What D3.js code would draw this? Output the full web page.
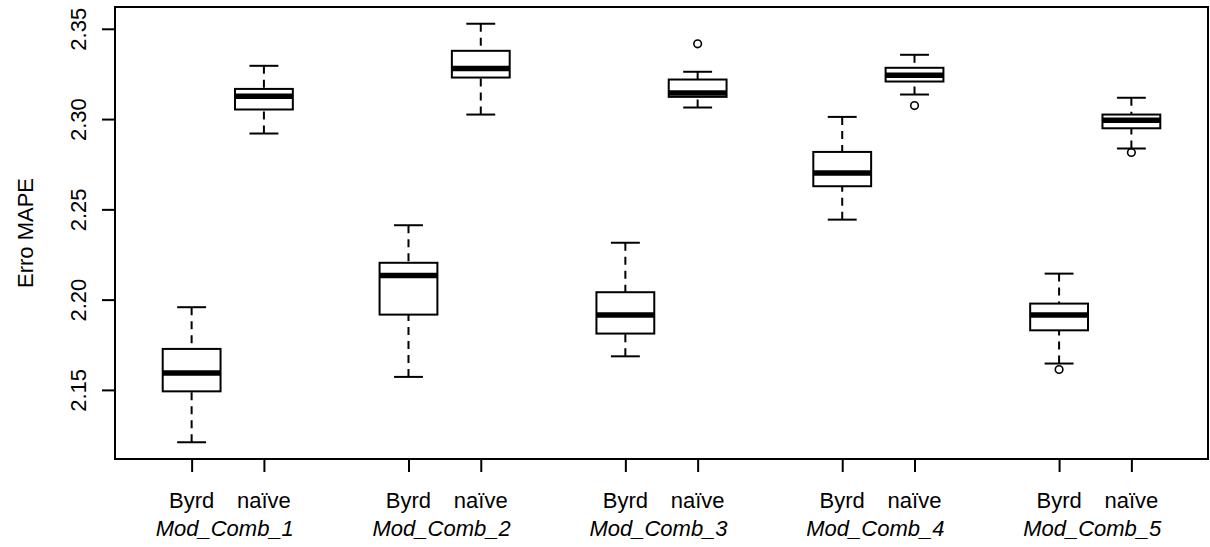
<!DOCTYPE html>
<html>
<head>
<meta charset="utf-8">
<script src="https://cdn.jsdelivr.net/npm/d3@7"></script>
<style>
  html, body { margin: 0; padding: 0; background: #fff; }
  svg { display: block; }
  text { font-family: "Liberation Sans", Arial, sans-serif; fill: #000; }
</style>
</head>
<body>
<div id="chart"></div>
<script>
// Groups and methods
const groups = ["Mod_Comb_1", "Mod_Comb_2", "Mod_Comb_3", "Mod_Comb_4", "Mod_Comb_5"];
const methods = ["Byrd", "naïve"];

// Five-number summaries per group: [lower whisker, Q1, median, Q3, upper whisker]
const byrdStats = [
  [2.1210, 2.1492, 2.1594, 2.1727, 2.1958],
  [2.1572, 2.1917, 2.2133, 2.2204, 2.2412],
  [2.1686, 2.1812, 2.1915, 2.2041, 2.2315],
  [2.2443, 2.2628, 2.2702, 2.2818, 2.3012],
  [2.1646, 2.1830, 2.1915, 2.1978, 2.2144]
];
const naiveStats = [
  [2.2920, 2.3053, 2.3127, 2.3167, 2.3295],
  [2.3025, 2.3230, 2.3280, 2.3378, 2.3528],
  [2.3064, 2.3123, 2.3145, 2.3219, 2.3262],
  [2.3136, 2.3208, 2.3243, 2.3284, 2.3356],
  [2.2837, 2.2949, 2.2994, 2.3025, 2.3118]
];

// Outlying points per group
const byrdOutliers = [[], [], [], [], [2.1613]];
const naiveOutliers = [[], [], [2.3417], [2.3075], [2.2815]];

// Y axis tick values
const yTicks = [2.15, 2.20, 2.25, 2.30, 2.35];
const yTitle = "Erro MAPE";

const W = 1210, H = 547;
const margin = { top: 7, right: 2, bottom: 88, left: 115 };
const FS = "22px";

// Build the list of boxes with their slot positions (gap of one slot between groups)
const boxes = [];
groups.forEach((g, gi) => {
  [byrdStats, naiveStats].forEach((stats, mi) => {
    boxes.push({
      group: g,
      method: methods[mi],
      pos: 1 + gi * 3 + mi,
      s: stats[gi],
      out: (mi === 0 ? byrdOutliers : naiveOutliers)[gi]
    });
  });
});

const svg = d3.select("#chart").append("svg").attr("width", W).attr("height", H);

// X: slot positions, range padded by half a slot plus 4%
const posExt = d3.extent(boxes, d => d.pos);
const xlo = posExt[0] - 0.5, xhi = posExt[1] + 0.5;
const xpad = (xhi - xlo) * 0.04;
const x = d3.scaleLinear().domain([xlo - xpad, xhi + xpad]).range([margin.left, W - margin.right]);

// Y: data extent padded by 4%
const allVals = boxes.flatMap(b => b.s.concat(b.out));
const yExt = d3.extent(allVals);
const ypad = (yExt[1] - yExt[0]) * 0.04;
const y = d3.scaleLinear().domain([yExt[0] - ypad, yExt[1] + ypad]).range([H - margin.bottom, margin.top]);

const bw = x(0.4) - x(0);   // half box width
const cw = x(0.2) - x(0);   // half staple width
const LW = 2;

const plot = svg.append("g");

const box = plot.selectAll("g.box").data(boxes).enter().append("g").attr("class", "box");

// Whiskers (dashed), drawn from the staple towards the box
box.append("line")
  .attr("x1", d => x(d.pos)).attr("x2", d => x(d.pos))
  .attr("y1", d => y(d.s[4])).attr("y2", d => y(d.s[3]))
  .attr("stroke", "#000").attr("stroke-width", LW).attr("stroke-dasharray", "8,6");
box.append("line")
  .attr("x1", d => x(d.pos)).attr("x2", d => x(d.pos))
  .attr("y1", d => y(d.s[0])).attr("y2", d => y(d.s[1]))
  .attr("stroke", "#000").attr("stroke-width", LW).attr("stroke-dasharray", "8,6");

// Staples
box.append("line")
  .attr("x1", d => x(d.pos) - cw).attr("x2", d => x(d.pos) + cw)
  .attr("y1", d => y(d.s[4])).attr("y2", d => y(d.s[4]))
  .attr("stroke", "#000").attr("stroke-width", LW);
box.append("line")
  .attr("x1", d => x(d.pos) - cw).attr("x2", d => x(d.pos) + cw)
  .attr("y1", d => y(d.s[0])).attr("y2", d => y(d.s[0]))
  .attr("stroke", "#000").attr("stroke-width", LW);

// Boxes
box.append("rect")
  .attr("x", d => x(d.pos) - bw).attr("width", 2 * bw)
  .attr("y", d => y(d.s[3])).attr("height", d => y(d.s[1]) - y(d.s[3]))
  .attr("fill", "#fff").attr("stroke", "#000").attr("stroke-width", LW);

// Medians
box.append("line")
  .attr("x1", d => x(d.pos) - bw).attr("x2", d => x(d.pos) + bw)
  .attr("y1", d => y(d.s[2])).attr("y2", d => y(d.s[2]))
  .attr("stroke", "#000").attr("stroke-width", 5.5);

// Outliers
box.selectAll("circle").data(d => d.out.map(v => ({ pos: d.pos, v }))).enter().append("circle")
  .attr("cx", d => x(d.pos)).attr("cy", d => y(d.v)).attr("r", 3.8)
  .attr("fill", "none").attr("stroke", "#000").attr("stroke-width", 1.6);

// Plot frame
svg.append("rect")
  .attr("x", margin.left).attr("y", margin.top)
  .attr("width", W - margin.left - margin.right).attr("height", H - margin.top - margin.bottom)
  .attr("fill", "none").attr("stroke", "#000").attr("stroke-width", LW);

// Y axis
const yAxis = d3.axisLeft(y).tickValues(yTicks).tickFormat(d3.format(".2f")).tickSize(13).tickSizeOuter(0);
const ya = svg.append("g").attr("transform", `translate(${margin.left},0)`).call(yAxis);
ya.select(".domain").remove();
ya.selectAll(".tick line").attr("stroke", "#000").attr("stroke-width", LW);
ya.selectAll(".tick text")
  .attr("x", null).attr("dy", null)
  .attr("transform", "translate(-29,0) rotate(-90)")
  .attr("text-anchor", "middle")
  .style("font-size", FS)
  .style("font-family", "'Liberation Sans', Arial, sans-serif")
  .attr("fill", "#000");

// X axis: one tick per box
const xa = svg.append("g").attr("transform", `translate(0,${H - margin.bottom})`)
  .call(d3.axisBottom(x).tickValues(boxes.map(b => b.pos)).tickFormat(() => "").tickSize(13).tickSizeOuter(0));
xa.select(".domain").remove();
xa.selectAll(".tick line").attr("stroke", "#000").attr("stroke-width", LW);

svg.append("g").selectAll("text").data(boxes).enter().append("text")
  .attr("x", d => x(d.pos)).attr("y", 508)
  .attr("text-anchor", "middle").style("font-size", FS)
  .text(d => d.method);

// Group labels
svg.append("g").selectAll("text").data(groups).enter().append("text")
  .attr("x", (d, i) => x(1.5 + i * 3) - 3).attr("y", 536)
  .attr("text-anchor", "middle").style("font-size", FS).style("font-style", "italic")
  .text(d => d);

// Y title
svg.append("text")
  .attr("transform", `translate(33,${(margin.top + H - margin.bottom) / 2}) rotate(-90)`)
  .attr("text-anchor", "middle").style("font-size", FS)
  .text(yTitle);
</script>
</body>
</html>
